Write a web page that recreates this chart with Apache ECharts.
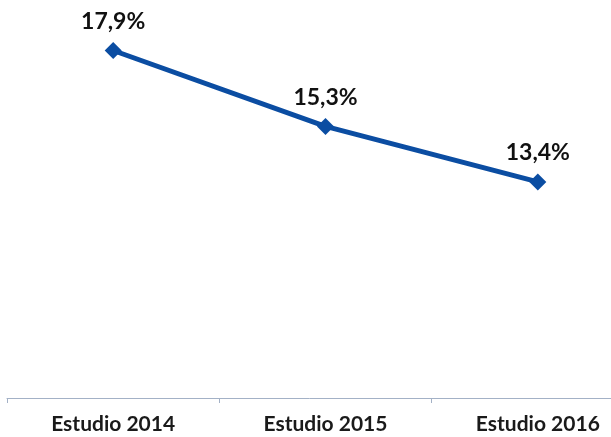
<!DOCTYPE html>
<html>
<head>
<meta charset="utf-8">
<script src="https://cdn.jsdelivr.net/npm/echarts@6/dist/echarts.min.js"></script>
<style>
    html, body { margin: 0; padding: 0; background: #fff; }
    #chart { width: 611px; height: 437px; }
</style>
</head>
<body>
<div id="chart"></div>
<script>
var categories = ['Estudio 2014', 'Estudio 2015', 'Estudio 2016'];
var values = [17.9, 15.3, 13.4];

var lineColor = '#0B4DA2';

var chart = echarts.init(document.getElementById('chart'));

var option = {
    animation: false,
    grid: {
        left: 7,
        width: 637,
        top: 0,
        bottom: 39,
        outerBoundsMode: 'none',
        containLabel: false
    },
    xAxis: {
        type: 'category',
        data: categories,
        axisLine: { lineStyle: { color: '#A3B1C6', width: 1 } },
        axisTick: { show: true, length: 5, lineStyle: { color: '#A3B1C6' } },
        axisLabel: {
            margin: 16,
            color: '#1a1a1a',
            fontFamily: 'Lato',
            fontWeight: 'bold',
            fontSize: 21
        }
    },
    yAxis: {
        type: 'value',
        min: 6,
        max: 19.63,
        show: false,
        splitLine: { show: false }
    },
    series: [{
        type: 'line',
        data: values,
        symbol: 'diamond',
        symbolSize: 17,
        itemStyle: { color: lineColor },
        lineStyle: { color: lineColor, width: 5 },
        label: {
            show: true,
            position: 'top',
            distance: 9,
            color: '#111',
            fontFamily: 'Lato',
            fontWeight: 'bold',
            fontSize: 23,
            formatter: function (p) {
                return p.value.toFixed(1).replace('.', ',') + '%';
            }
        }
    }]
};

chart.setOption(option);
</script>
</body>
</html>
